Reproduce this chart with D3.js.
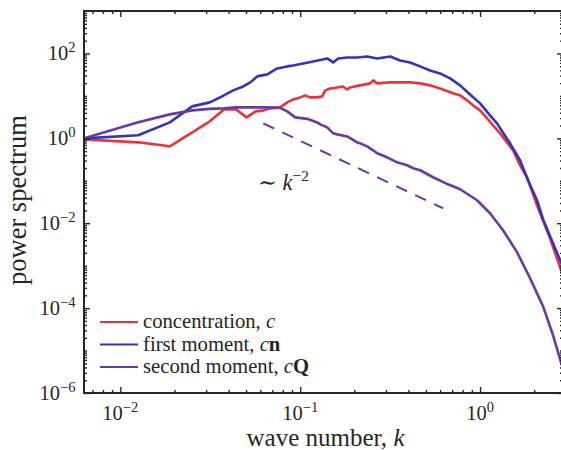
<!DOCTYPE html>
<html><head><meta charset="utf-8">
<script src="https://cdn.jsdelivr.net/npm/d3@7"></script>
<style>
body{margin:0;background:#fff}
svg{display:block}
</style>
</head><body><svg id="c" width="561" height="450" font-family="'Liberation Serif','DejaVu Serif',serif"></svg>
<script>
// ---- data ----
const kConc = [0.00628,0.01257,0.01885,0.0251,0.0314,0.0377,0.0440,0.0503,0.0565,0.0628,0.0681,0.0774,0.0847,0.0914,0.1,0.1066,0.1136,0.1243,0.1325,0.1377,0.1468,0.1606,0.1733,0.1825,0.1896,0.2154,0.2448,0.2545,0.2678,0.3162,0.3735,0.4084,0.4642,0.5275,0.5995,0.7079,0.7743,0.8468,0.9145,1.0,1.094,1.292,1.525,1.668,1.824,2.073,2.448,2.818,2.892];
const pConc = [0.947,0.805,0.648,1.38,2.51,4.81,4.81,3.12,4.32,4.56,5.08,5.36,7.03,8.27,9.22,10.3,9.22,9.22,9.73,13.5,15.0,15.8,16.7,14.2,15.8,17.7,19.7,23.2,19.7,20.8,20.8,20.8,19.7,17.7,15.0,11.5,10.3,7.84,5.98,4.56,2.96,1.31,0.522,0.232,0.121,0.0265,0.00444,0.000784,0.000566];

const kFirst = [0.00628,0.01257,0.01885,0.0251,0.0314,0.0359,0.0424,0.0482,0.0528,0.0577,0.0656,0.0745,0.0847,0.0914,0.1039,0.1181,0.1413,0.1526,0.1626,0.1825,0.2073,0.2356,0.2678,0.3162,0.3594,0.4084,0.4642,0.5275,0.5995,0.6813,0.7743,0.8799,1.0,1.136,1.243,1.468,1.668,1.848,2.073,2.239,2.544,2.818,2.892];
const pFirst = [1.0,1.18,2.38,5.66,7.03,9.22,13.5,16.7,20.8,28.8,32.1,44.4,49.5,52.2,58.2,64.8,76.3,61.4,76.3,80.5,80.5,85.0,76.3,85.0,68.4,61.4,49.5,39.8,33.8,25.8,17.7,10.8,6.66,3.48,2.25,0.763,0.304,0.103,0.0348,0.0124,0.00338,0.00121,0.000873];

const kSecond = [0.00628,0.01257,0.01885,0.0251,0.0314,0.0377,0.0440,0.0528,0.0656,0.0774,0.0847,0.0938,0.1094,0.1243,0.1292,0.1413,0.1526,0.1606,0.1825,0.2073,0.2154,0.2356,0.2544,0.2678,0.3043,0.3458,0.3929,0.4249,0.4642,0.5481,0.6556,0.7079,0.7743,0.9624,1.136,1.342,1.605,1.896,2.239,2.544,2.818,2.892];
const pSecond = [1.0,2.38,3.67,4.56,4.94,5.08,5.36,5.36,5.36,5.22,4.32,3.12,2.88,2.37,2.13,1.81,1.31,1.24,1.11,0.80,0.763,0.648,0.522,0.444,0.357,0.272,0.232,0.197,0.177,0.121,0.0843,0.0743,0.0631,0.0348,0.0172,0.00684,0.00208,0.000508,0.000111,0.0000232,0.00000536,0.00000367];

const guideK = [0.0623, 0.623];
const guideP = [2.25, 0.0225];

const seriesNames = ["concentration, ", "first moment, ", "second moment, "];
const seriesSym = [["c",""],["c","n"],["c","Q"]];
const seriesColors = ["#e8353a","#3333bb","#6a3aa3"];

const xMajor = [0.01, 0.1, 1];
const yMajor = [1e-6, 1e-4, 1e-2, 1, 1e2];
const xTickExp = ["\u22122","\u22121","0"];
const yTickExp = ["\u22126","\u22124","\u22122","0","2"];

// ---- layout ----
const L = 84, R = 563, T = 11, B = 393;
const FONT = "'Liberation Serif','DejaVu Serif',serif";
const svg = d3.select("#c");
const x = d3.scaleLog().domain([0.00628, 2.892]).range([L, R]);
const y = d3.scaleLog().domain([1e-6, 1e3]).range([B, T]);

const xMinor = [];
for (let e = -3; e <= 0; e++) for (let m = 2; m <= 9; m++) { const v = m * Math.pow(10, e); if (v >= 0.00628 && v <= 2.892) xMinor.push(v); }
const yMinor = [];
for (let e = -6; e <= 2; e++) for (let m = 1; m <= 9; m++) { const v = m * Math.pow(10, e); if (m === 1 && e % 2 === 0) continue; if (v >= 1e-6 && v <= 1e3) yMinor.push(v); }

svg.append("clipPath").attr("id","clip").append("rect").attr("x",L).attr("y",T).attr("width",R-L).attr("height",B-T);

const line = d3.line().x(d => x(d[0])).y(d => y(d[1]));
const plot = svg.append("g").attr("clip-path","url(#clip)");
const sets = [[kConc,pConc],[kFirst,pFirst],[kSecond,pSecond]];
sets.forEach((s,i) => {
  plot.append("path").datum(s[0].map((k,j)=>[k,s[1][j]]))
    .attr("d", line).attr("fill","none").attr("stroke",seriesColors[i])
    .attr("stroke-width",2.6).attr("stroke-linejoin","round");
});
plot.append("path").datum(guideK.map((k,j)=>[k,guideP[j]]))
  .attr("d", line).attr("fill","none").attr("stroke",seriesColors[2])
  .attr("stroke-width",2).attr("stroke-dasharray","12,9");

// axes (ticks inward)
function styleAxis(g){ g.select(".domain").remove(); g.selectAll("line").attr("stroke","#262626").attr("stroke-width",1.4); }
const mk = (fn, vals, len, tr) => svg.append("g").attr("transform",tr)
  .call(fn.tickValues(vals).tickSizeInner(-len).tickSizeOuter(0).tickFormat("")).call(styleAxis);
mk(d3.axisBottom(x), xMajor, 6, `translate(0,${B})`);
mk(d3.axisBottom(x), xMinor, 3, `translate(0,${B})`);
mk(d3.axisTop(x), xMajor, 6, `translate(0,${T})`);
mk(d3.axisTop(x), xMinor, 3, `translate(0,${T})`);
mk(d3.axisLeft(y), yMajor, 6, `translate(${L},0)`);
mk(d3.axisLeft(y), yMinor, 3, `translate(${L},0)`);
mk(d3.axisRight(y), yMajor, 6, `translate(${R},0)`);
mk(d3.axisRight(y), yMinor, 3, `translate(${R},0)`);

svg.append("rect").attr("x",L).attr("y",T).attr("width",R-L).attr("height",B-T)
  .attr("fill","none").attr("stroke","#262626").attr("stroke-width",2);

function txt(){ return svg.append("text").attr("font-family",FONT).attr("fill","#262626"); }

// tick labels
xMajor.forEach((v,i) => {
  const t = txt().attr("x", x(v)).attr("y", 420).attr("text-anchor","middle").attr("font-size",20.5);
  t.append("tspan").text("10");
  t.append("tspan").attr("dy",-8).attr("font-size",14.5).text(xTickExp[i]);
});
yMajor.forEach((v,i) => {
  const t = txt().attr("x", 75.5).attr("y", y(v)+7).attr("text-anchor","end").attr("font-size",20.5);
  t.append("tspan").text("10");
  t.append("tspan").attr("dy",-8).attr("font-size",14.5).text(yTickExp[i]);
});

// axis labels
txt().attr("x",(L+R)/2 + 2).attr("y",446).attr("text-anchor","middle").attr("font-size",25)
  .call(t => { t.append("tspan").text("wave number, "); t.append("tspan").attr("font-style","italic").text("k"); });
txt().attr("transform",`translate(26,${(T+B)/2 - 2}) rotate(-90)`).attr("text-anchor","middle")
  .attr("font-size",26.5).text("power spectrum");

// annotation
const ann = txt().attr("x",258).attr("y",190).attr("font-size",22.5);
ann.append("tspan").text("\u223C ");
ann.append("tspan").attr("font-style","italic").text("k");
ann.append("tspan").attr("dy",-9).attr("font-size",15.5).text("\u22122");

// legend
seriesNames.forEach((n,i) => {
  const cy = 322 + i*22.5;
  svg.append("line").attr("x1",100).attr("x2",138).attr("y1",cy).attr("y2",cy)
    .attr("stroke",seriesColors[i]).attr("stroke-width",2.2);
  const t = txt().attr("x",143).attr("y",cy+6).attr("font-size",20.7);
  t.append("tspan").text(n);
  t.append("tspan").attr("font-style","italic").text(seriesSym[i][0]);
  if (seriesSym[i][1]) t.append("tspan").attr("font-weight","bold").text(seriesSym[i][1]);
});
</script>
</body></html>
